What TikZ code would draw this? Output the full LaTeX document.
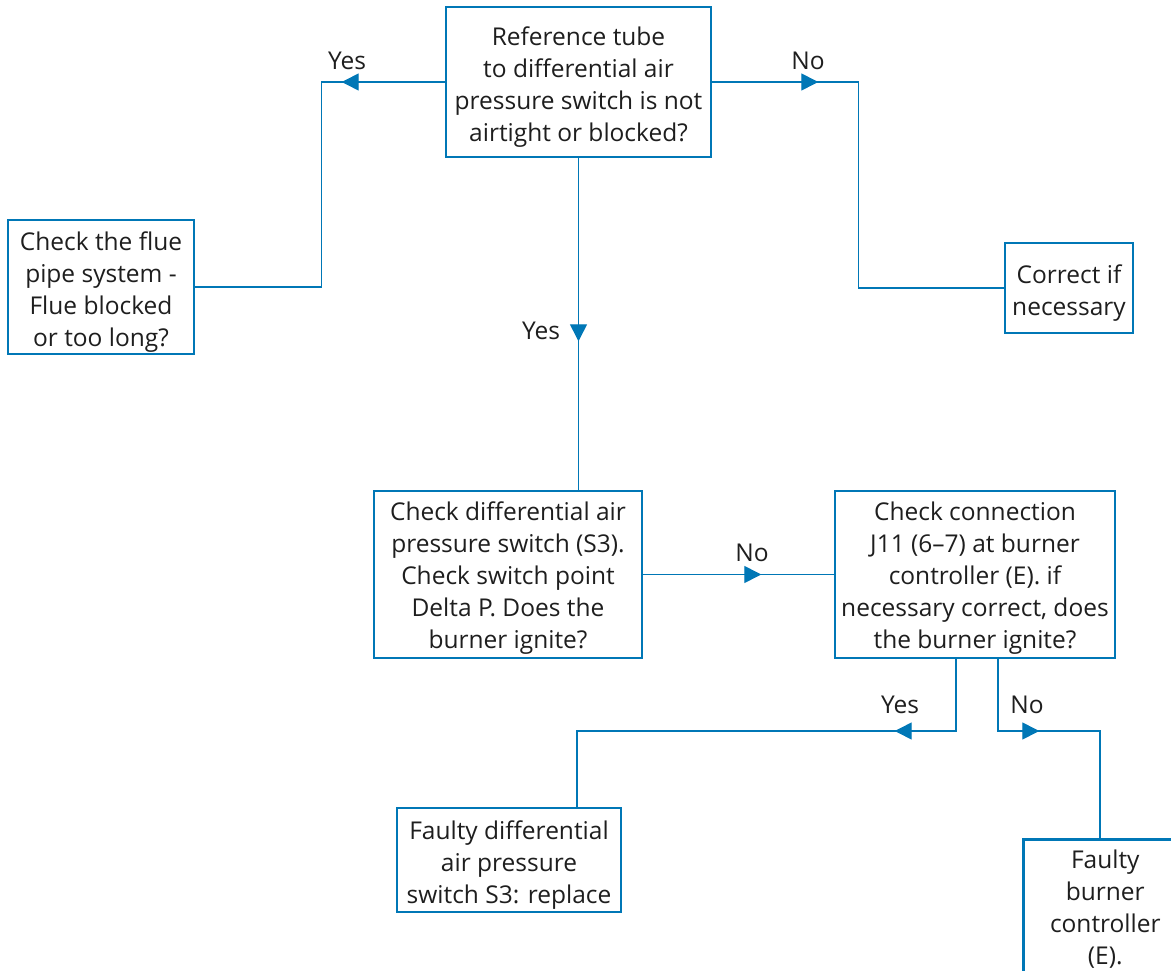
\documentclass[tikz,border=0pt]{standalone}
\usepackage{fontspec}
\setmainfont{Open Sans}
\usetikzlibrary{arrows.meta,calc,decorations.markings}
\definecolor{fcblue}{RGB}{0,119,182}
\definecolor{fctext}{RGB}{30,30,30}
\tikzset{
  box/.style={draw=fcblue, line width=2.6pt, inner sep=0pt},
  boxtxt/.style={align=center, inner sep=0pt,
    font=\fontsize{24.5}{32}\selectfont, text=fctext},
  conn/.style={draw=fcblue, line width=1.3pt},
  lbl/.style={font=\fontsize{24.5}{32}\selectfont, text=fctext, inner sep=0pt},
  tipat/.style={postaction={decorate, decoration={markings,
    mark=at position #1 with {\arrow[fcblue]{Triangle[length=17pt,width=17pt]}}}}}
}
\begin{document}
\begin{tikzpicture}[x=1pt,y=-1pt]
\useasboundingbox (0,0) rectangle (1171,971);
% boxes
\node[box, minimum width=265pt, minimum height=150pt] (top) at (578.5,82) {};
\node[boxtxt] (topt) at ($(top.center)+(0,5)$) {Reference tube\\to differential air\\pressure switch is not\\airtight or blocked?};
\node[box, minimum width=186pt, minimum height=134pt] (left) at (101,287) {};
\node[boxtxt] (leftt) at ($(left.center)+(0,5)$) {Check the flue\\pipe system -\\Flue blocked\\or too long?};
\node[box, minimum width=128pt, minimum height=90pt] (right) at (1069,288) {};
\node[boxtxt] (rightt) at ($(right.center)+(0,5)$) {Correct if\\necessary};
\node[box, minimum width=268pt, minimum height=167pt] (mid) at (508,574.5) {};
\node[boxtxt] (midt) at ($(mid.center)+(0,4)$) {Check differential air\\pressure switch (S3).\\Check switch point\\Delta P. Does the\\burner ignite?};
\node[box, minimum width=280pt, minimum height=167pt] (rm) at (975,574.5) {};
\node[boxtxt] (rmt) at ($(rm.center)+(0,4)$) {Check connection\\J11 (6–7) at burner\\controller (E). if\\necessary correct, does\\the burner ignite?};
\node[box, minimum width=224pt, minimum height=104pt] (fd) at (509,860) {};
\node[boxtxt] (fdt) at ($(fd.center)+(0,5)$) {Faulty differential\\air pressure\\switch S3: replace};
\node[box, minimum width=164pt, minimum height=140pt, anchor=north west] (fb) at (1022,838) {};
\node[boxtxt] (fbt) at (fb.center) {Faulty\\burner\\controller\\(E).};
% coordinates
\coordinate (yk) at (577,731);
\coordinate (nk) at (1100,731);
% connectors
\draw[conn, tipat=103pt] (top.west) -- ++(-123,0) |- (left.east);
\draw[conn, tipat=106pt] (top.east) -- ++(146,0) |- (right.west);
\draw[conn, tipat=183pt] (top.south) -- (mid.north -| top.south);
\draw[conn, tipat=118pt] (mid.east) -- (rm.west);
\draw[conn, tipat=133pt] ($(rm.south)+(-19,0)$) |- (yk) -- (yk |- fd.north);
\draw[conn, tipat=113pt] ($(rm.south)+(23,0)$) |- (nk) -- (nk |- fb.north);
% labels
\node[lbl] (l1) at (347,61) {Yes};
\node[lbl] (l2) at (808,61) {No};
\node[lbl] (l3) at (541,331) {Yes};
\node[lbl] (l4) at (752,553) {No};
\node[lbl] (l5) at (900,705) {Yes};
\node[lbl] (l6) at (1027,705) {No};
\end{tikzpicture}
\end{document}
